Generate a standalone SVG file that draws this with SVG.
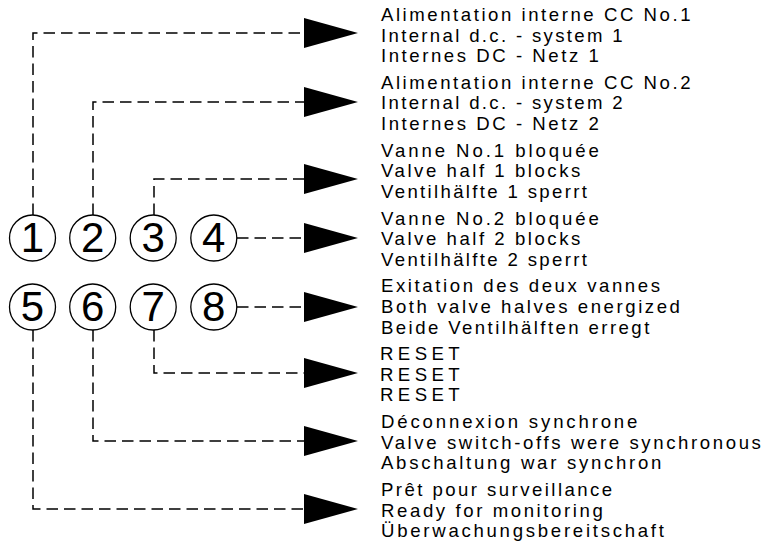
<svg xmlns="http://www.w3.org/2000/svg" width="773" height="547" viewBox="0 0 773 547">
<style>
.c{fill:#fff;stroke:#000;stroke-width:1.3}
.d{font-family:"Liberation Sans",Arial,sans-serif;font-size:42px;fill:#000;text-anchor:middle}
.l{fill:none;stroke:#000;stroke-width:1.5;stroke-dasharray:11.5 6;marker-end:url(#ah)}
.t{font-family:"Liberation Sans",Arial,sans-serif;font-size:18.6px;fill:#000}
</style>
<defs>
<marker id="ah" markerUnits="userSpaceOnUse" markerWidth="56" markerHeight="32" refX="0" refY="15" orient="auto" viewBox="0 0 56 32">
<path d="M0,0 L54,15 L0,30 Z" fill="#000"/>
</marker>
</defs>
<g id="connectors">
<path class="l" d="M33,215 V33 H304"/>
<path class="l" d="M93,215 V102 H304"/>
<path class="l" d="M154,215 V179 H304"/>
<path class="l" d="M237,238 H304"/>
<path class="l" d="M237,307 H304"/>
<path class="l" d="M154,330 V373 H304"/>
<path class="l" d="M93,330 V441 H304"/>
<path class="l" d="M33,330 V509 H304"/>
</g>
<g id="n1"><circle class="c" cx="32.5" cy="238" r="23"/><text class="d" x="32.5" y="252">1</text></g>
<g id="n2"><circle class="c" cx="92.7" cy="238" r="23"/><text class="d" x="92.7" y="252">2</text></g>
<g id="n3"><circle class="c" cx="153.2" cy="238" r="23"/><text class="d" x="153.2" y="252">3</text></g>
<g id="n4"><circle class="c" cx="213.8" cy="238" r="23"/><text class="d" x="213.8" y="252">4</text></g>
<g id="n5"><circle class="c" cx="32.5" cy="307" r="23"/><text class="d" x="32.5" y="321">5</text></g>
<g id="n6"><circle class="c" cx="92.7" cy="307" r="23"/><text class="d" x="92.7" y="321">6</text></g>
<g id="n7"><circle class="c" cx="153.2" cy="307" r="23"/><text class="d" x="153.2" y="321">7</text></g>
<g id="n8"><circle class="c" cx="213.8" cy="307" r="23"/><text class="d" x="213.8" y="321">8</text></g>
<g id="labels">
<g id="lab1"><text class="t" x="381" y="20.8" textLength="309.5">Alimentation interne CC No.1</text><text class="t" x="381" y="41.5" textLength="241.7">Internal d.c. - system 1</text><text class="t" x="381" y="62.2" textLength="217.8">Internes DC - Netz 1</text></g>
<g id="lab2"><text class="t" x="381" y="88.7" textLength="309.5">Alimentation interne CC No.2</text><text class="t" x="381" y="109.4" textLength="241.7">Internal d.c. - system 2</text><text class="t" x="381" y="130.1" textLength="217.8">Internes DC - Netz 2</text></g>
<g id="lab3"><text class="t" x="381" y="156.6" textLength="217.9">Vanne No.1 bloquée</text><text class="t" x="381" y="177.3" textLength="199.3">Valve half 1 blocks</text><text class="t" x="381" y="198" textLength="205.9">Ventilhälfte 1 sperrt</text></g>
<g id="lab4"><text class="t" x="381" y="224.5" textLength="217.9">Vanne No.2 bloquée</text><text class="t" x="381" y="245.2" textLength="199.3">Valve half 2 blocks</text><text class="t" x="381" y="265.9" textLength="205.9">Ventilhälfte 2 sperrt</text></g>
<g id="lab5"><text class="t" x="381" y="292.4" textLength="279">Exitation des deux vannes</text><text class="t" x="381" y="313.1" textLength="298.9">Both valve halves energized</text><text class="t" x="381" y="333.8" textLength="268.3">Beide Ventilhälften erregt</text></g>
<g id="lab6"><text class="t" x="380" y="359.8" textLength="79.7">RESET</text><text class="t" x="380" y="380.5" textLength="79.7">RESET</text><text class="t" x="380" y="401.2" textLength="79.7">RESET</text></g>
<g id="lab7"><text class="t" x="381" y="428" textLength="256.4">Déconnexion synchrone</text><text class="t" x="381" y="448.7" textLength="379.9">Valve switch-offs were synchronous</text><text class="t" x="381" y="469.4" textLength="280.3">Abschaltung war synchron</text></g>
<g id="lab8"><text class="t" x="381" y="496" textLength="231.1">Prêt pour surveillance</text><text class="t" x="381" y="516.7" textLength="221.8">Ready for monitoring</text><text class="t" x="381" y="537.4" textLength="282.9">Überwachungsbereitschaft</text></g>
</g>
</svg>
